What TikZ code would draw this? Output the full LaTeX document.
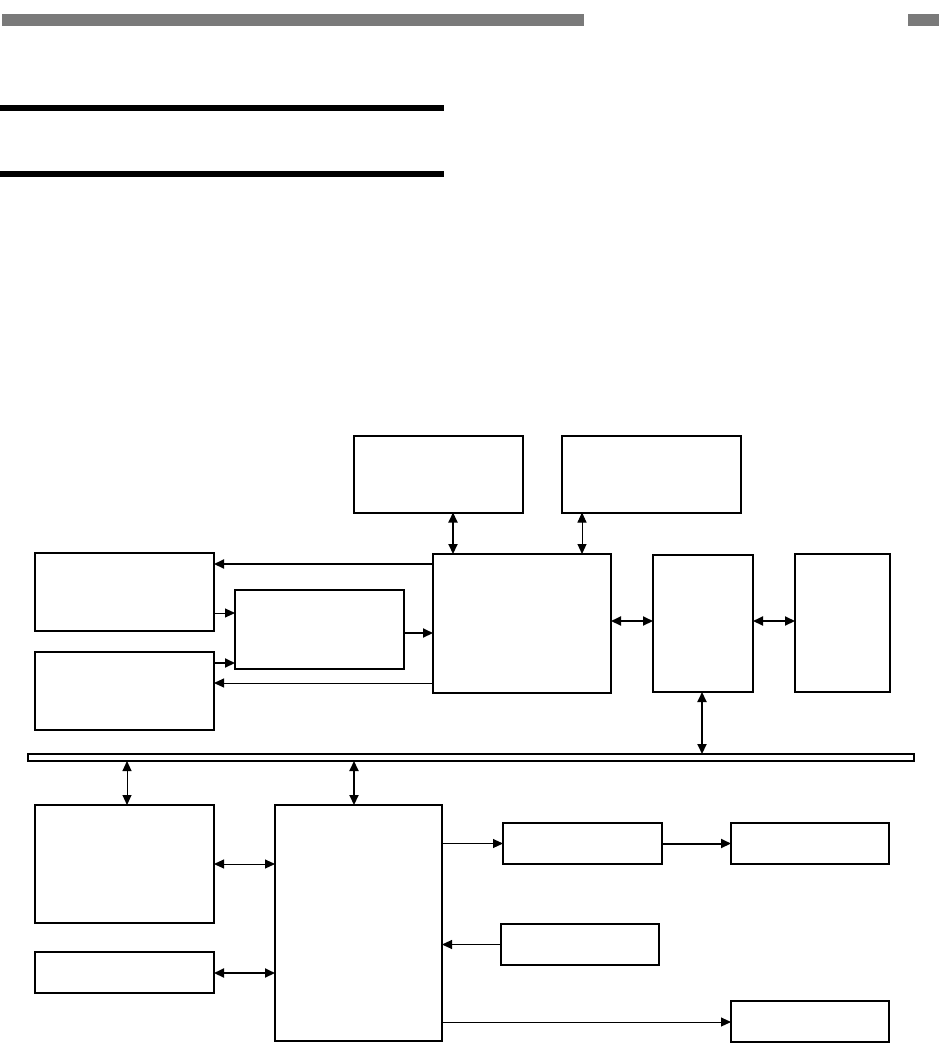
\documentclass[tikz,border=0pt]{standalone}
\usetikzlibrary{arrows.meta}

\begin{document}
\begin{tikzpicture}[x=1pt, y=-1pt, line cap=butt, line join=miter,
  >={Triangle[length=10pt,width=9pt]},
  blk/.style={draw, line width=2pt, inner sep=0pt, outer sep=0pt},
  thinlink/.style={line width=1pt},
  thicklink/.style={line width=2pt}]
  \useasboundingbox (0,0) rectangle (939,1044);

  % Page header bars.
  \fill[black!52] (2,14) rectangle (584,26);
  \fill[black!52] (908,14) rectangle (939,26);
  \fill[black] (0,105) rectangle (444,111);
  \fill[black] (0,171) rectangle (444,177);

  % Upper group of blocks.
  \node[blk, minimum width=169pt, minimum height=77pt] (mem1) at (438.5,474) {};
  \node[blk, minimum width=179pt, minimum height=77pt] (mem2) at (651.5,474) {};
  \node[blk, minimum width=178pt, minimum height=139pt] (cpu) at (522,623.5) {};
  \node[blk, minimum width=100pt, minimum height=137pt] (bridge) at (703,623.5) {};
  \node[blk, minimum width=95pt, minimum height=138pt] (ext) at (842.5,623) {};
  \node[blk, minimum width=179pt, minimum height=78pt] (in1) at (124.5,592) {};
  \node[blk, minimum width=179pt, minimum height=78pt] (in2) at (124.5,691) {};
  \node[blk, minimum width=169pt, minimum height=79pt] (ctl) at (319.5,629.5) {};

  % System bus.
  \node[blk, line width=1.6pt, minimum width=886pt, minimum height=7pt] (bus) at (471,757.5) {};

  % Lower group of blocks.
  \node[blk, minimum width=179pt, minimum height=118pt] (io1) at (124.5,864) {};
  \node[blk, minimum width=179pt, minimum height=41pt] (io2) at (124.5,972.5) {};
  \node[blk, minimum width=167pt, minimum height=236pt] (per) at (358.5,923) {};
  \node[blk, minimum width=159pt, minimum height=41pt] (out1) at (582.5,843.5) {};
  \node[blk, minimum width=158pt, minimum height=41pt] (out2) at (810,843.5) {};
  \node[blk, minimum width=158pt, minimum height=41pt] (src) at (580,944.5) {};
  \node[blk, minimum width=158pt, minimum height=41pt] (out3) at (810,1021.5) {};

  % Links in the upper group.
  \draw[<->, thicklink] (453,0 |- mem1.south) -- (453,0 |- cpu.north);
  \draw[<->, thinlink] (582,0 |- mem2.south) -- (582,0 |- cpu.north);
  \draw[<->, thicklink] (cpu.east |- 0,621) -- (bridge.west |- 0,621);
  \draw[<->, thicklink] (bridge.east |- 0,621) -- (ext.west |- 0,621);
  \draw[<->, thicklink] (702,0 |- bridge.south) -- (702,0 |- bus.north);
  \draw[->, thicklink] (cpu.west |- 0,564) -- (in1.east |- 0,564);
  \draw[->, thinlink] (in1.east |- 0,613) -- (ctl.west |- 0,613);
  \draw[->, thicklink] (in2.east |- 0,663) -- (ctl.west |- 0,663);
  \draw[->, thicklink] (ctl.east |- 0,633) -- (cpu.west |- 0,633);
  \draw[->, thinlink] (cpu.west |- 0,683) -- (in2.east |- 0,683);

  % Links in the lower group.
  \draw[<->, thinlink] (127,0 |- bus.south) -- (127,0 |- io1.north);
  \draw[<->, thicklink] (354,0 |- bus.south) -- (354,0 |- per.north);
  \draw[<->, thinlink] (io1.east |- 0,864) -- (per.west |- 0,864);
  \draw[<->, thicklink] (io2.east |- 0,973) -- (per.west |- 0,973);
  \draw[->, thinlink] (per.east |- out1.west) -- (out1.west);
  \draw[->, thicklink] (out1.east) -- (out2.west);
  \draw[->, thinlink] (src.west) -- (per.east |- src.west);
  \draw[->, thinlink] (per.east |- 0,1022) -- (out3.west |- 0,1022);

\end{tikzpicture}
\end{document}
